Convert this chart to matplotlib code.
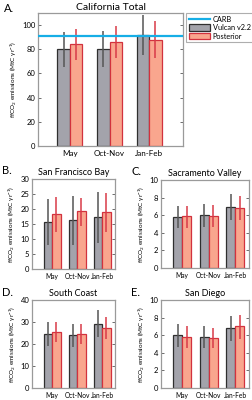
import numpy as np
import matplotlib
matplotlib.use("Agg")
import matplotlib.pyplot as plt
from matplotlib.lines import Line2D
from matplotlib.patches import Patch

plt.rcParams["font.family"] = ["Lato", "DejaVu Sans"]
plt.rcParams["mathtext.fontset"] = "custom"
plt.rcParams["mathtext.rm"] = "Lato"
plt.rcParams["mathtext.it"] = "Lato:italic"

seasons = ["May", "Oct-Nov", "Jan-Feb"]

# California total (MtC/yr)
ca_vulcan = [80, 80, 91.5]
ca_vulcan_lo = [65, 65, 75]
ca_vulcan_hi = [94, 95, 108]
ca_post = [84, 86, 88]
ca_post_lo = [71, 73, 73]
ca_post_hi = [97, 99, 103]
carb_total = 91

# regions
sf_vulcan = [15.7, 16.2, 17.2]
sf_vulcan_lo = [8.0, 8.0, 8.7]
sf_vulcan_hi = [23.5, 24.2, 25.7]
sf_post = [18.2, 19.2, 18.9]
sf_post_lo = [12.3, 14.5, 12.3]
sf_post_hi = [24.0, 23.7, 25.3]

sac_vulcan = [5.85, 6.0, 6.95]
sac_vulcan_lo = [4.6, 4.7, 5.5]
sac_vulcan_hi = [7.1, 7.3, 8.4]
sac_post = [5.9, 5.95, 6.85]
sac_post_lo = [4.6, 4.7, 5.4]
sac_post_hi = [7.1, 7.15, 8.2]

sc_vulcan = [24.7, 24.0, 29.3]
sc_vulcan_lo = [19.3, 18.5, 23.0]
sc_vulcan_hi = [30.0, 29.2, 35.5]
sc_post = [25.5, 24.6, 27.5]
sc_post_lo = [20.8, 20.2, 22.3]
sc_post_hi = [30.2, 29.0, 32.5]

sd_vulcan = [6.0, 5.85, 6.8]
sd_vulcan_lo = [4.7, 4.6, 5.3]
sd_vulcan_hi = [7.3, 7.1, 8.2]
sd_post = [5.85, 5.65, 7.0]
sd_post_lo = [4.6, 4.6, 5.6]
sd_post_hi = [7.0, 6.8, 8.3]

gray_fill = "#a3a3ab"
gray_edge = "#2f2f2f"
gray_err = "#555555"
sal_fill = "#f9a68e"
sal_edge = "#d2323e"
red_err = "#d83a48"
frame_col = "#9a9a9a"

fig = plt.figure(figsize=(2.52, 4.0), dpi=100)
W, H = 252.0, 400.0


def make_ax(l, t, r, b):
    return fig.add_axes([l / W, 1 - b / H, (r - l) / W, (b - t) / H])


def draw(ax, v, vlo, vhi, p, plo, phi, ylim, yticks, xlim, bw, xfs):
    x = np.arange(1, len(seasons) + 1)
    ax.bar(x - bw / 2, v, bw, color=gray_fill, edgecolor=gray_edge, linewidth=0.9, zorder=2)
    ax.bar(x + bw / 2, p, bw, color=sal_fill, edgecolor=sal_edge, linewidth=0.9, zorder=2)
    ax.vlines(x - bw / 2, vlo, vhi, color=gray_err, linewidth=1.1, zorder=3)
    ax.vlines(x + bw / 2, plo, phi, color=red_err, linewidth=1.1, zorder=3)
    ax.set_xlim(*xlim)
    ax.set_ylim(*ylim)
    ax.set_yticks(yticks)
    ax.set_xticks(x)
    ax.set_xticklabels(seasons, fontsize=xfs)
    ax.tick_params(axis="y", labelsize=5.5, direction="in", length=2, right=True,
                   width=0.5, color="#333333", pad=2)
    ax.tick_params(axis="x", length=0, pad=3)
    for s in ax.spines.values():
        s.set_color(frame_col)
        s.set_linewidth(0.9)
    ax.set_ylabel(r"ffCO$_2$ emissions (MtC yr$^{-1}$)", fontsize=4.6, labelpad=2)


# A. California total
axA = make_ax(38, 13, 183, 146)
draw(axA, ca_vulcan, ca_vulcan_lo, ca_vulcan_hi, ca_post, ca_post_lo, ca_post_hi,
     (0, 110), [0, 20, 40, 60, 80, 100], (0.2, 3.85), 0.31, 5.8)
axA.axhline(carb_total, color="#16aee6", linewidth=1.6, zorder=4)
axA.set_title("California Total", fontsize=7.5, pad=2)
handles = [Line2D([0], [0], color="#16aee6", linewidth=1.6),
           Patch(facecolor=gray_fill, edgecolor=gray_edge, linewidth=0.9),
           Patch(facecolor=sal_fill, edgecolor=sal_edge, linewidth=0.9)]
leg = fig.legend(handles, ["CARB", "Vulcan v2.2", "Posterior"], fontsize=5.3,
                 loc="upper left", bbox_to_anchor=(186 / W, 1 - 13 / H),
                 frameon=True, fancybox=False, borderpad=0.35, labelspacing=0.2,
                 handlelength=2.9, handleheight=1.0, handletextpad=0.4, borderaxespad=0)
leg.get_frame().set_edgecolor(frame_col)
leg.get_frame().set_linewidth(0.8)

panels = [
    ("B.", "San Francisco Bay", (32, 179, 115, 269), sf_vulcan, sf_vulcan_lo, sf_vulcan_hi,
     sf_post, sf_post_lo, sf_post_hi, (0, 30), [0, 5, 10, 15, 20, 25, 30]),
    ("C.", "Sacramento Valley", (161, 180, 249, 268), sac_vulcan, sac_vulcan_lo, sac_vulcan_hi,
     sac_post, sac_post_lo, sac_post_hi, (0, 10), [0, 2, 4, 6, 8, 10]),
    ("D.", "South Coast", (32, 300, 115, 388), sc_vulcan, sc_vulcan_lo, sc_vulcan_hi,
     sc_post, sc_post_lo, sc_post_hi, (0, 40), [0, 10, 20, 30, 40]),
    ("E.", "San Diego", (161, 300, 249, 388), sd_vulcan, sd_vulcan_lo, sd_vulcan_hi,
     sd_post, sd_post_lo, sd_post_hi, (0, 10), [0, 2, 4, 6, 8, 10]),
]

for letter, title, box, v, vlo, vhi, p, plo, phi, ylim, yt in panels:
    ax = make_ax(*box)
    draw(ax, v, vlo, vhi, p, plo, phi, ylim, yt, (0.2, 3.52), 0.34, 4.8)
    ax.set_title(title, fontsize=6.5, pad=3)
    fig.text((box[0] - 30) / W, 1 - (box[1] - 8) / H, letter, fontsize=8,
             ha="left", va="center")

fig.text(4 / W, 1 - 8 / H, "A.", fontsize=8, ha="left", va="center")

fig.savefig("out.png", dpi=100)
